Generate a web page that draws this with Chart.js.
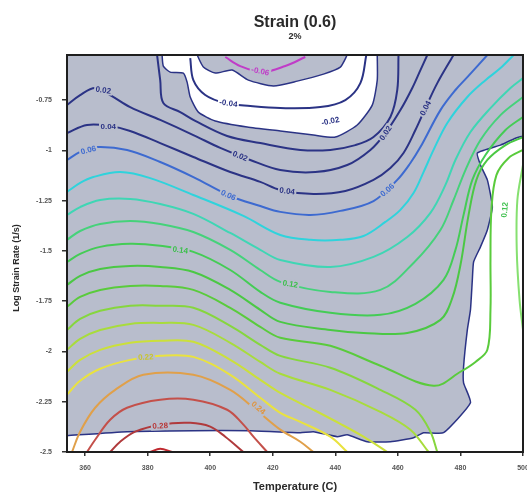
<!DOCTYPE html>
<html><head><meta charset="utf-8">
<script src="https://cdn.jsdelivr.net/npm/chart.js@4.4.1/dist/chart.umd.min.js"></script>
<style>html,body{margin:0;padding:0;background:#fff}#wrap{width:527px;height:494px}</style>
</head><body><div id="wrap"><canvas id="c" width="527" height="494"></canvas></div>
<script>
// ---- axes ----
const xTicks = [360, 380, 400, 420, 440, 460, 480, 500];
const yTicks = [-2.5, -2.25, -2, -1.75, -1.5, -1.25, -1, -0.75];
const xRange = [354.2, 500];
const yRange = [-2.5, -0.526];

// ---- regions (temperature, log strain rate) ----
const capRegion = [[395.8,-0.526],[397.8,-0.586],[401.6,-0.616],[407,-0.601],[412.2,-0.651],[420.2,-0.680],[427.8,-0.656],[436.2,-0.621],[441.6,-0.586],[443.8,-0.526]];
const whiteTopRegion = [[384.6,-0.526],[385,-0.581],[387.2,-0.611],[391.4,-0.616],[392.6,-0.661],[393.6,-0.735],[396.2,-0.810],[401.6,-0.854],[411.8,-0.884],[422.4,-0.904],[433,-0.924],[440,-0.934],[447,-0.874],[451.8,-0.775],[453.4,-0.651],[453.4,-0.526]];
const whiteEdgeRegion = [[354.2,-2.419],[373.4,-2.399],[394.6,-2.394],[412.8,-2.394],[428.8,-2.404],[433,-2.399],[440.6,-2.424],[443.8,-2.414],[450.2,-2.449],[457.6,-2.449],[465,-2.429],[468.2,-2.404],[474.6,-2.404],[483.2,-2.255],[481,-2.156],[481,-2.076],[482.2,-1.893],[483.2,-1.793],[483.8,-1.644],[484.2,-1.555],[486.4,-1.480],[488.6,-1.396],[490.2,-1.282],[488.6,-1.147],[486.4,-1.073],[485.4,-1.013],[492.8,-0.974],[500,-0.934],[500,-2.5],[354.2,-2.5]];

// ---- contour lines ----
const c_m006 = [[404.8,-0.536],[409.6,-0.581],[416.6,-0.611],[424,-0.581],[430.4,-0.536]];
const c_m004 = [[393.6,-0.541],[394.6,-0.651],[398.4,-0.725],[404.8,-0.765],[412.8,-0.780],[422.4,-0.790],[435.2,-0.785],[443.2,-0.750],[448,-0.666],[449.9,-0.526]];
const c_000 = [[383,-0.526],[384,-0.651],[385,-0.765],[390.4,-0.810],[395.2,-0.854],[405.4,-0.929],[416,-0.964],[428.8,-0.998],[438.4,-0.998],[446.4,-0.974],[452.2,-0.934],[457.6,-0.834],[459.8,-0.700],[460.2,-0.526]];
const c_002 = [[354.2,-0.775],[358.4,-0.725],[363.2,-0.690],[368,-0.725],[374.4,-0.785],[384,-0.849],[394.6,-0.924],[403.2,-0.988],[412.8,-1.048],[422.4,-1.098],[433.6,-1.108],[443.8,-1.073],[451.2,-0.998],[456,-0.914],[460.8,-0.800],[464.6,-0.690],[467.2,-0.601],[469.4,-0.526]];
const c_004 = [[354.2,-0.914],[360.6,-0.874],[368,-0.879],[374.4,-0.904],[384,-0.964],[394.6,-1.033],[406.4,-1.108],[416,-1.157],[422.4,-1.197],[433,-1.217],[443.2,-1.202],[452.2,-1.147],[457.6,-1.088],[461.8,-1.013],[465.6,-0.899],[468.8,-0.790],[472.6,-0.666],[477.8,-0.526]];
const c_006 = [[354.2,-1.048],[358.4,-1.008],[363.2,-0.984],[373.4,-0.998],[384,-1.058],[394.6,-1.133],[406.4,-1.227],[416,-1.277],[422.4,-1.306],[432,-1.321],[441.6,-1.301],[452.2,-1.252],[459.8,-1.147],[464,-1.063],[467.2,-0.984],[473.6,-0.800],[478.4,-0.700],[482.2,-0.636],[488.6,-0.526]];
const c_008 = [[354.2,-1.207],[358.4,-1.162],[362.6,-1.133],[371.2,-1.108],[380.8,-1.138],[394.6,-1.222],[410.6,-1.326],[422.4,-1.421],[432,-1.445],[441.6,-1.445],[449,-1.426],[456,-1.356],[460.8,-1.296],[465,-1.212],[468.2,-1.108],[471.4,-0.998],[475.8,-0.864],[482.2,-0.735],[488,-0.651],[492.8,-0.591],[497,-0.526]];
const c_010 = [[354.2,-1.321],[358.4,-1.282],[364.8,-1.247],[374.4,-1.242],[384,-1.267],[394.6,-1.316],[406.4,-1.411],[416,-1.495],[422.4,-1.545],[438.4,-1.580],[452.2,-1.530],[463,-1.431],[470.4,-1.311],[475.2,-1.172],[478.4,-1.048],[483.2,-0.909],[489.6,-0.790],[496,-0.690],[500,-0.641]];
const c_012 = [[354.2,-1.445],[358.4,-1.401],[364.8,-1.366],[374.4,-1.351],[384,-1.366],[394.6,-1.406],[406.4,-1.495],[416,-1.595],[422.4,-1.654],[438.4,-1.704],[454.4,-1.694],[465,-1.560],[473.6,-1.396],[477.8,-1.247],[481.6,-1.098],[486.4,-0.949],[492.8,-0.825],[500,-0.735]];
const c_014 = [[354.2,-1.555],[358.4,-1.515],[364.8,-1.480],[374.4,-1.465],[384,-1.475],[394.6,-1.505],[406.4,-1.595],[416,-1.704],[422.4,-1.758],[438.4,-1.808],[454.4,-1.818],[465.6,-1.763],[474.6,-1.644],[478.4,-1.495],[481,-1.321],[483.8,-1.147],[488,-1.023],[494.4,-0.899],[500,-0.834]];
const c_016 = [[354.2,-1.669],[358.4,-1.624],[364.8,-1.590],[374.4,-1.575],[384,-1.580],[394.6,-1.605],[406.4,-1.694],[416,-1.793],[422.4,-1.853],[438.4,-1.893],[449,-1.908],[463,-1.908],[473.6,-1.843],[477.4,-1.734],[480,-1.570],[482.6,-1.321],[485.1,-1.147],[488.6,-1.048],[494.4,-0.974],[500,-0.934]];
const c_018 = [[354.2,-1.778],[358.4,-1.729],[364.8,-1.694],[374.4,-1.674],[384,-1.674],[394.6,-1.694],[406.4,-1.783],[416,-1.878],[422.4,-1.932],[438.4,-1.972],[454.4,-2.071],[471.4,-2.171],[480,-2.101],[484.8,-2.052],[488.6,-1.992],[489.6,-1.793],[489.6,-1.545],[489.9,-1.296],[491.5,-1.123],[495.4,-1.038],[500,-0.998]];
const c_018b = [[500,-1.073],[498.2,-1.247],[498,-1.495],[498.9,-1.744],[500,-1.893]];
const c_020 = [[354.2,-1.893],[358.4,-1.838],[364.8,-1.798],[374.4,-1.773],[384,-1.773],[394.6,-1.783],[406.4,-1.873],[416,-1.967],[422.4,-2.022],[438.4,-2.081],[454.4,-2.191],[465.6,-2.290],[470.4,-2.399],[472.6,-2.5]];
const c_022 = [[354.2,-1.992],[358.4,-1.937],[364.8,-1.893],[374.4,-1.863],[384,-1.858],[394.6,-1.868],[406.4,-1.957],[416,-2.052],[422.4,-2.111],[438.4,-2.191],[454.4,-2.300],[464,-2.389],[469.8,-2.5]];
const c_024 = [[354.2,-2.101],[358.4,-2.042],[364.8,-1.992],[374.4,-1.957],[384,-1.947],[394.6,-1.952],[406.4,-2.042],[416,-2.141],[422.4,-2.206],[433,-2.290],[441.6,-2.360],[449,-2.424],[456.6,-2.5]];
const c_026 = [[354.2,-2.215],[358.4,-2.146],[364.8,-2.086],[374.4,-2.042],[384,-2.022],[394.6,-2.027],[406.4,-2.116],[416,-2.230],[422.4,-2.305],[428.8,-2.350],[438.4,-2.424],[443.8,-2.5]];
const c_028 = [[355.8,-2.5],[358.4,-2.399],[363.2,-2.280],[369.6,-2.191],[378.6,-2.116],[394.6,-2.116],[406.4,-2.191],[414.6,-2.290],[422.4,-2.389],[428.8,-2.449],[433,-2.5]];
const c_030 = [[360.6,-2.5],[363.2,-2.439],[368,-2.340],[373.4,-2.280],[384,-2.240],[394.6,-2.240],[405.4,-2.290],[410.6,-2.364],[413.8,-2.424],[418.2,-2.5]];
const c_032 = [[368,-2.5],[371.2,-2.449],[376,-2.399],[384,-2.364],[393.6,-2.355],[400,-2.374],[404.8,-2.424],[410.6,-2.5]];
const c_034 = [[380.8,-2.5],[384,-2.484],[387.8,-2.5]];

// ---- contour labels ----
const labelText = ['0.02','0.04','0.06','0.02','0.04','0.06','-0.04','-0.02','-0.06','0.02','0.04','0.06','0.14','0.12','0.12','0.22','0.24','0.28'];
const labelT = [365.8,367.4,361,409.6,424.6,405.8,405.8,438.4,416,456,468.8,456.6,390.4,425.6,494.1,379.4,415.4,384];
const labelL = [-0.700,-0.879,-0.998,-1.028,-1.202,-1.222,-0.765,-0.854,-0.606,-0.914,-0.790,-1.197,-1.495,-1.664,-1.296,-2.027,-2.280,-2.369];

// ---- styles ----
const navy = '#2b3385';
const plotBg = '#b8bdcc';
const labelAngle = [8,0,-15,22,8,25,8,-12,12,-55,-62,-40,8,10,-85,-3,40,-3];
const labelColor = [navy,navy,'#3d6ad0',navy,navy,'#3d6ad0',navy,navy,'#c03cc8',navy,navy,'#3d6ad0','#3bbf4a','#3bbf4a','#3bbf4a','#c8c430','#e0943c','#b83a3a'];
const labelBg = [plotBg,plotBg,plotBg,plotBg,plotBg,plotBg,'#fff','#fff',plotBg,plotBg,plotBg,plotBg,plotBg,plotBg,'#fff',plotBg,plotBg,plotBg];

const lineDefs = [
  [c_m006,'#c03cc8'],[c_m004,navy],[c_000,navy],[c_002,navy],[c_004,navy],[c_006,'#3d6ad0'],
  [c_008,'#2fd3dc'],[c_010,'#3fd6b4'],[c_012,'#45d27a'],[c_014,'#44cc55'],[c_016,'#4bc844'],
  [c_018,'#5acb3c'],[c_018b,'#86e070'],[c_020,'#86d63e'],[c_022,'#a8dc3c'],[c_024,'#cbe03a'],
  [c_026,'#e9e23f'],[c_028,'#e0a04a'],[c_030,'#c4504a'],[c_032,'#b03a3c'],[c_034,'#c02a30']
];

const datasets = [];
datasets.push({data: whiteEdgeRegion, showLine:true, fill:'shape', backgroundColor:'#ffffff', borderColor:navy, borderWidth:1.5, tension:0.15, pointRadius:0, order:3});
datasets.push({data: whiteTopRegion, showLine:true, fill:'shape', backgroundColor:'#ffffff', borderColor:navy, borderWidth:1.5, tension:0.2, pointRadius:0, order:3});
datasets.push({data: capRegion, showLine:true, fill:'shape', backgroundColor:plotBg, borderColor:navy, borderWidth:1.5, tension:0.2, pointRadius:0, order:2});
for (const [d, col] of lineDefs) {
  datasets.push({data:d, showLine:true, fill:false, borderColor:col, borderWidth:2, tension:0.35, pointRadius:0, order:1});
}

const FONT = '"Liberation Sans", Arial, sans-serif';

const bgPlugin = {
  id:'plotbg',
  beforeDatasetsDraw(chart){
    const {ctx, chartArea:a} = chart;
    ctx.save(); ctx.fillStyle = plotBg;
    ctx.fillRect(a.left, a.top, a.right-a.left, a.bottom-a.top);
    ctx.restore();
  },
  afterDatasetsDraw(chart){
    const {ctx, chartArea:a, scales} = chart;
    ctx.save();
    ctx.beginPath(); ctx.rect(a.left, a.top, a.right-a.left, a.bottom-a.top); ctx.clip();
    ctx.font = 'bold 8px ' + FONT;
    ctx.textAlign = 'center'; ctx.textBaseline = 'middle';
    for (let i=0;i<labelText.length;i++){
      const px = scales.x.getPixelForValue(labelT[i]);
      const py = scales.y.getPixelForValue(labelL[i]);
      ctx.save();
      ctx.translate(px, py);
      ctx.rotate(labelAngle[i]*Math.PI/180);
      const w = ctx.measureText(labelText[i]).width + 3;
      ctx.fillStyle = labelBg[i];
      ctx.fillRect(-w/2, -4.5, w, 9);
      ctx.fillStyle = labelColor[i];
      ctx.fillText(labelText[i], 0, 0.5);
      ctx.restore();
    }
    ctx.restore();
    ctx.save();
    ctx.strokeStyle = '#1e1e1e'; ctx.lineWidth = 2;
    ctx.strokeRect(a.left, a.top, a.right-a.left, a.bottom-a.top);
    ctx.restore();
  },
  afterDraw(chart){
    const {ctx, chartArea:a} = chart;
    const cx = (a.left + a.right)/2;
    ctx.save();
    ctx.fillStyle = '#2a2a2a';
    ctx.textAlign = 'center'; ctx.textBaseline = 'middle';
    ctx.font = 'bold 16px ' + FONT;
    ctx.fillText('Strain (0.6)', cx, 23);
    ctx.font = 'bold 9px ' + FONT;
    ctx.fillText('2%', cx, 37);
    ctx.font = 'bold 11px ' + FONT;
    ctx.fillText('Temperature (C)', cx, 487);
    ctx.translate(17, 268);
    ctx.rotate(-Math.PI/2);
    ctx.font = 'bold 9px ' + FONT;
    ctx.fillText('Log Strain Rate (1/s)', 0, 0);
    ctx.restore();
  }
};

new Chart(document.getElementById('c'), {
  type:'scatter',
  data:{datasets},
  options:{
    responsive:false, animation:false, devicePixelRatio:1,
    layout:{padding:{top:55, right:4, left:0, bottom:0}},
    plugins:{legend:{display:false}, tooltip:{enabled:false}, title:{display:false}},
    elements:{point:{radius:0, hitRadius:0}},
    scales:{
      x:{type:'linear', min:xRange[0], max:xRange[1],
        afterBuildTicks:s=>{ s.ticks = xTicks.map(v=>({value:v})); },
        afterFit:s=>{ s.height = 42; s.paddingLeft = 0; s.paddingRight = 0; },
        grid:{drawOnChartArea:false, drawTicks:true, tickLength:4, color:'#333', lineWidth:1.5},
        border:{display:false},
        ticks:{font:{size:7, weight:'bold', family:FONT}, color:'#555', padding:8, maxRotation:0, callback:v=>String(v)}
      },
      y:{type:'linear', min:yRange[0], max:yRange[1],
        afterBuildTicks:s=>{ s.ticks = yTicks.map(v=>({value:v})); },
        afterFit:s=>{ s.width = 67; s.paddingTop = 0; s.paddingBottom = 0; },
        grid:{drawOnChartArea:false, drawTicks:true, tickLength:5, color:'#333', lineWidth:1.5},
        border:{display:false},
        ticks:{font:{size:7, weight:'bold', family:FONT}, color:'#555', padding:10, callback:v=>String(v)}
      }
    }
  },
  plugins:[bgPlugin]
});
</script>
</body></html>
